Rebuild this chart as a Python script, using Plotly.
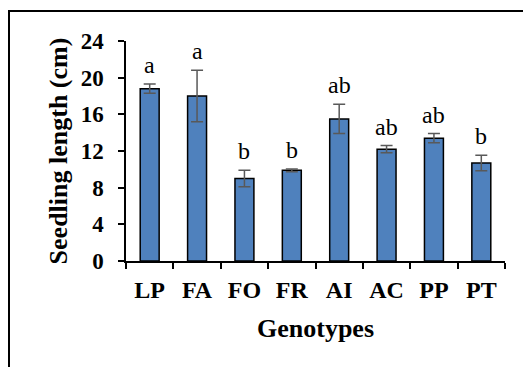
import plotly.graph_objects as go

genotypes = ["LP", "FA", "FO", "FR", "AI", "AC", "PP", "PT"]
lengths = [18.8, 18.0, 9.0, 9.9, 15.5, 12.2, 13.4, 10.7]
errors = [0.5, 2.8, 0.9, 0.15, 1.6, 0.4, 0.5, 0.85]
letters = ["a", "a", "b", "b", "ab", "ab", "ab", "b"]

fig = go.Figure()
fig.add_trace(go.Bar(
    x=genotypes, y=lengths, width=0.4,
    marker=dict(color="#4F81BD", line=dict(color="black", width=1.5)),
    error_y=dict(type="data", array=errors, visible=True,
                 color="#595959", thickness=1.5, width=6),
))

for g, v, e, t in zip(genotypes, lengths, errors, letters):
    fig.add_annotation(x=g, y=v + e, text=t, showarrow=False,
                       yanchor="bottom", yshift=4,
                       font=dict(family="Liberation Serif", size=24, color="black"))

L, R, T, B = 126, 18, 41, 106
W, H = 523 - L - R, 367 - T - B
fig.add_shape(type="rect", xref="paper", yref="paper",
              x0=(9 - L) / W, x1=(540 - L) / W,
              y0=-(390 - (T + H)) / H, y1=1 + (T - 11) / H,
              line=dict(color="black", width=2), fillcolor="rgba(0,0,0,0)",
              layer="below")

fig.update_layout(
    width=523, height=367,
    margin=dict(l=L, r=R, t=T, b=B),
    plot_bgcolor="white", paper_bgcolor="white",
    showlegend=False,
    font=dict(family="Liberation Serif", color="black"),
    xaxis=dict(
        showline=True, linecolor="black", linewidth=1.5,
        ticks="outside", tickson="boundaries", ticklen=6, tickcolor="black", tickwidth=1.5,
        tickfont=dict(family="Liberation Serif", size=24, color="black", weight="bold"),
        ticklabelstandoff=6,
        title=dict(text="<b>Genotypes</b>", font=dict(family="Liberation Serif", size=26), standoff=17),
        showgrid=False,
    ),
    yaxis=dict(
        range=[0, 24], dtick=4, tick0=0,
        showline=True, linecolor="black", linewidth=1.5,
        ticks="outside", ticklen=6, tickcolor="black", tickwidth=1.5,
        tickfont=dict(family="Liberation Serif", size=23, color="black", weight="bold"),
        ticklabelstandoff=10,
        title=dict(text="<b>Seedling length (cm)</b>", font=dict(family="Liberation Serif", size=26), standoff=6),
        showgrid=False, zeroline=False,
    ),
)

fig.write_html("out.html")
